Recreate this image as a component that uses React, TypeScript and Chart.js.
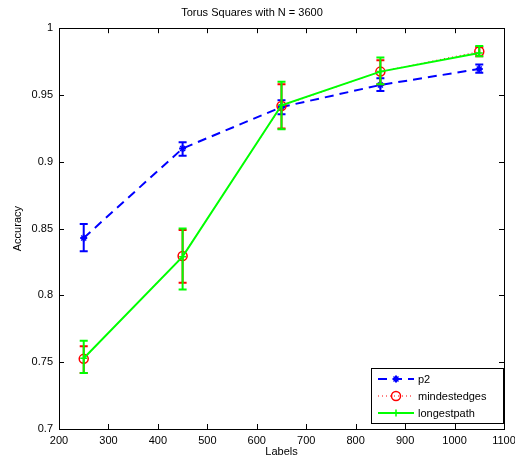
import React, { useEffect, useRef } from "react";
import { Chart, registerables } from "chart.js";

Chart.register(...registerables);

const xLabels = [250, 450, 650, 850, 1050];
const p2 = [0.843, 0.91, 0.941, 0.9575, 0.9695];
const p2Lo = [0.833, 0.9045, 0.9356, 0.953, 0.9667];
const p2Hi = [0.8535, 0.9147, 0.946, 0.9625, 0.9729];
const minEdges = [0.7525, 0.8295, 0.9418, 0.9675, 0.9825];
const minLo = [0.742, 0.8095, 0.925, 0.958, 0.979];
const minHi = [0.762, 0.849, 0.958, 0.976, 0.986];
const longest = [0.753, 0.829, 0.9423, 0.9675, 0.9815];
const longLo = [0.742, 0.8045, 0.9244, 0.958, 0.979];
const longHi = [0.766, 0.85, 0.96, 0.978, 0.9866];
const seriesNames = ["p2", "mindestedges", "longestpath"];
const titleText = "Torus Squares with N = 3600";

const FONT = "'Liberation Sans', Arial, Helvetica, sans-serif";

const toPts = (vals: number[]) => vals.map((y, i) => ({ x: xLabels[i], y }));

function drawMarker(ctx: CanvasRenderingContext2D, style: string, x: number, y: number, color: string) {
  ctx.save();
  ctx.setLineDash([]);
  ctx.strokeStyle = color;
  ctx.fillStyle = color;
  if (style === "circle") {
    ctx.lineWidth = 1.5;
    ctx.beginPath();
    ctx.arc(x, y, 4.5, 0, Math.PI * 2);
    ctx.stroke();
  } else if (style === "star") {
    ctx.lineWidth = 2;
    ctx.beginPath();
    ctx.moveTo(x - 3.5, y); ctx.lineTo(x + 3.5, y);
    ctx.moveTo(x, y - 3.5); ctx.lineTo(x, y + 3.5);
    ctx.stroke();
    ctx.lineWidth = 1.5;
    ctx.beginPath();
    ctx.moveTo(x - 2.5, y - 2.5); ctx.lineTo(x + 2.5, y + 2.5);
    ctx.moveTo(x - 2.5, y + 2.5); ctx.lineTo(x + 2.5, y - 2.5);
    ctx.stroke();
  } else {
    ctx.lineWidth = 1.5;
    ctx.beginPath();
    ctx.moveTo(x - 3.5, y); ctx.lineTo(x + 3.5, y);
    ctx.moveTo(x, y - 3.5); ctx.lineTo(x, y + 3.5);
    ctx.stroke();
  }
  ctx.restore();
}

const errorBarPlugin = {
  id: "errorBars",
  afterDatasetDraw(chart: any, args: any) {
    const ds = chart.data.datasets[args.index];
    if (!ds.errLo) return;
    const { ctx, chartArea, scales } = chart;
    ctx.save();
    ctx.beginPath();
    ctx.rect(chartArea.left, chartArea.top, chartArea.right - chartArea.left, chartArea.bottom - chartArea.top);
    ctx.clip();
    ctx.strokeStyle = ds.borderColor;
    ctx.lineWidth = 2;
    ctx.setLineDash([]);
    const cap = 4;
    ds.data.forEach((p: any, i: number) => {
      const x = scales.x.getPixelForValue(p.x);
      const yl = scales.y.getPixelForValue(ds.errLo[i]);
      const yh = scales.y.getPixelForValue(ds.errHi[i]);
      ctx.beginPath();
      ctx.moveTo(x, yl); ctx.lineTo(x, yh);
      ctx.moveTo(x - cap, yl); ctx.lineTo(x + cap, yl);
      ctx.moveTo(x - cap, yh); ctx.lineTo(x + cap, yh);
      ctx.stroke();
    });
    ctx.restore();
  },
};

const frameLegendPlugin = {
  id: "frameLegend",
  afterDraw(chart: any) {
    const { ctx, chartArea: a, scales } = chart;
    ctx.save();
    ctx.setLineDash([]);
    ctx.strokeStyle = "#000";
    ctx.lineWidth = 1;
    ctx.strokeRect(Math.round(a.left) + 0.5, Math.round(a.top) + 0.5, Math.round(a.right - a.left), Math.round(a.bottom - a.top));
    const tl = 5;
    ctx.beginPath();
    scales.x.ticks.forEach((t: any) => {
      const x = Math.round(scales.x.getPixelForValue(t.value)) + 0.5;
      ctx.moveTo(x, a.bottom); ctx.lineTo(x, a.bottom - tl);
      ctx.moveTo(x, a.top); ctx.lineTo(x, a.top + tl);
    });
    scales.y.ticks.forEach((t: any) => {
      const y = Math.round(scales.y.getPixelForValue(t.value)) + 0.5;
      ctx.moveTo(a.left, y); ctx.lineTo(a.left + tl, y);
      ctx.moveTo(a.right, y); ctx.lineTo(a.right - tl, y);
    });
    ctx.stroke();

    // legend box
    const bx = 371, by = 368, bw = 132, bh = 55;
    ctx.fillStyle = "#fff";
    ctx.fillRect(bx, by, bw, bh);
    ctx.strokeRect(bx + 0.5, by + 0.5, bw, bh);
    const dss = chart.data.datasets;
    const rowsY = [379, 396, 413];
    dss.forEach((ds: any, i: number) => {
      const y = rowsY[i];
      ctx.save();
      ctx.strokeStyle = ds.borderColor;
      ctx.lineWidth = ds.borderWidth;
      ctx.setLineDash(ds.borderDash || []);
      ctx.beginPath();
      ctx.moveTo(378, y); ctx.lineTo(414, y);
      ctx.stroke();
      ctx.restore();
      drawMarker(ctx, ds.markerStyle, 396, y, ds.borderColor);
      ctx.fillStyle = "#000";
      ctx.font = `11px ${FONT}`;
      ctx.textBaseline = "middle";
      ctx.textAlign = "left";
      ctx.fillText(ds.label, 418, y + 0.5);
    });
    ctx.restore();
  },
};

const markerPlugin = {
  id: "markers",
  afterDatasetDraw(chart: any, args: any) {
    const ds = chart.data.datasets[args.index];
    const { ctx, scales } = chart;
    ds.data.forEach((p: any) => {
      drawMarker(ctx, ds.markerStyle, scales.x.getPixelForValue(p.x), scales.y.getPixelForValue(p.y), ds.borderColor);
    });
  },
};

export default function App() {
  const ref = useRef<HTMLCanvasElement>(null);
  useEffect(() => {
    document.body.style.margin = "0";
    const canvas = ref.current!;
    const chart = new Chart(canvas, {
      type: "line",
      data: {
        datasets: [
          {
            label: seriesNames[0],
            data: toPts(p2),
            borderColor: "#0000ff",
            borderWidth: 2,
            borderDash: [9, 6],
            pointRadius: 0,
            fill: false,
            order: 3,
            errLo: p2Lo,
            errHi: p2Hi,
            markerStyle: "star",
          } as any,
          {
            label: seriesNames[1],
            data: toPts(minEdges),
            borderColor: "#ff0000",
            borderWidth: 1,
            borderDash: [1, 3],
            pointRadius: 0,
            fill: false,
            order: 2,
            errLo: minLo,
            errHi: minHi,
            markerStyle: "circle",
          } as any,
          {
            label: seriesNames[2],
            data: toPts(longest),
            borderColor: "#00ff00",
            borderWidth: 2,
            pointRadius: 0,
            fill: false,
            order: 1,
            errLo: longLo,
            errHi: longHi,
            markerStyle: "plus",
          } as any,
        ],
      },
      options: {
        responsive: false,
        animation: false,
        devicePixelRatio: 1,
        layout: { padding: { left: 0, right: 11, top: 0, bottom: 0 } },
        plugins: {
          legend: { display: false },
          tooltip: { enabled: false },
          title: {
            display: true,
            text: titleText,
            color: "#000",
            font: { family: FONT, size: 11, weight: "normal" },
            padding: { top: 6, bottom: 9 },
          },
        },
        scales: {
          x: {
            type: "linear",
            min: 200,
            max: 1100,
            grid: { display: false, drawTicks: false, tickLength: 0 },
            border: { display: true, color: "#000" },
            ticks: {
              stepSize: 100,
              color: "#000",
              padding: 5,
              maxRotation: 0,
              font: { family: FONT, size: 11 },
              callback: (v: any) => String(v),
            },
            title: {
              display: true,
              text: "Labels",
              color: "#000",
              font: { family: FONT, size: 11 },
              padding: { top: 1, bottom: 1.5 },
            },
            afterFit: (s: any) => {
              s.height = 31;
              s.paddingRight = 0;
              s.paddingLeft = 0;
            },
          },
          y: {
            type: "linear",
            min: 0.7,
            max: 1,
            grid: { display: false, drawTicks: false, tickLength: 0 },
            border: { display: true, color: "#000" },
            ticks: {
              stepSize: 0.05,
              color: "#000",
              padding: 6,
              font: { family: FONT, size: 11 },
              callback: (v: any) => String(parseFloat(Number(v).toFixed(2))),
            },
            title: {
              display: true,
              text: "Accuracy",
              color: "#000",
              font: { family: FONT, size: 11 },
              padding: { top: 11.4, bottom: 0 },
            },
            afterFit: (s: any) => {
              s.width = 59;
              s.paddingTop = 0;
              s.paddingBottom = 0;
            },
          },
        },
      } as any,
      plugins: [errorBarPlugin, markerPlugin, frameLegendPlugin],
    });
    return () => chart.destroy();
  }, []);
  return (
    <div style={{ width: 515, height: 460 }}>
      <canvas ref={ref} width={515} height={460} />
    </div>
  );
}
